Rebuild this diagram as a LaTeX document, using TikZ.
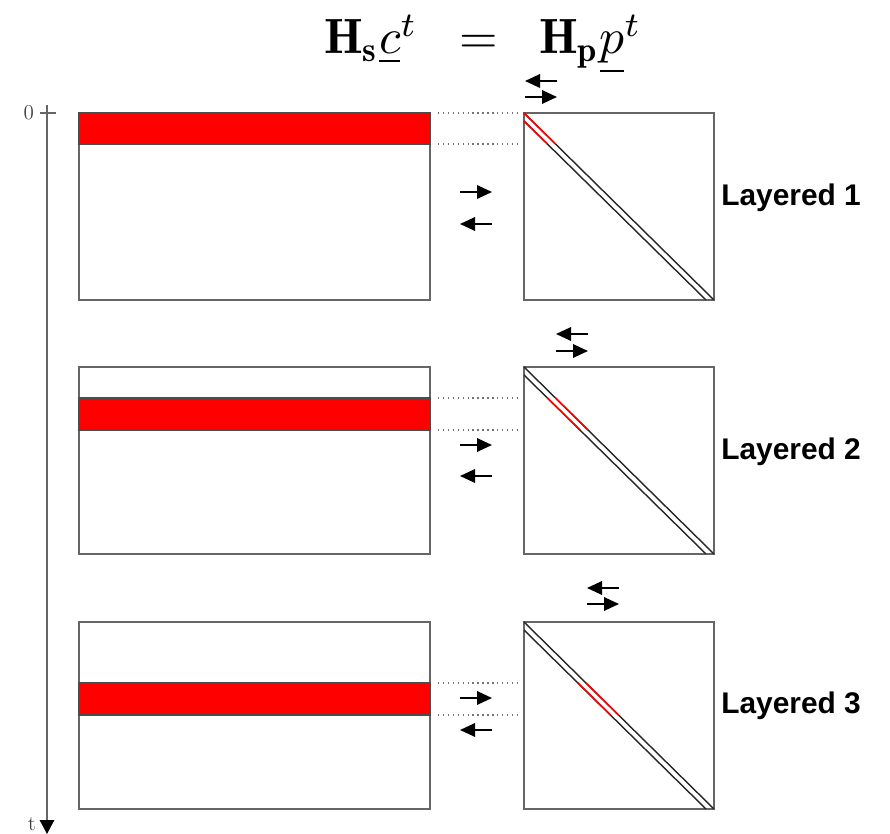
\documentclass[tikz,border=0pt]{standalone}
\usepackage{amsmath, amssymb}
\usepackage{fontspec}
\newfontfamily\labelfont{Liberation Sans}
\usetikzlibrary{positioning,arrows.meta}
\tikzset{
  flowarrow/.style={-{Triangle[length=3mm, width=2.7mm]}, line width=1pt},
  axisarrow/.style={-{Triangle[length=2.8mm, width=2.9mm, color=black]}, draw=black!60, line width=0.8pt},
  matbox/.style={draw=black!60, line width=1pt},
  redband/.style={draw=black!70, fill=red, line width=1pt},
  guideline/.style={draw=black!55, dotted, line width=0.8pt},
  diagline/.style={draw=black!85, line width=0.8pt},
  diagred/.style={draw=red, line width=0.9pt},
  layerlabel/.style={font=\labelfont\bfseries\fontsize{17}{20}\selectfont, anchor=west, inner sep=0pt},
  axislabel/.style={font=\large, text=black!75, inner sep=1pt}
}

\begin{document}
\begin{tikzpicture}[x=0.02cm, y=-0.02cm]
  \useasboundingbox (0,0) rectangle (890,834);
  \node[scale=2.82, anchor=base] (title) at (483,54) {$\mathbf{H}_{\mathbf{s}}\underline{c}^t\mkern10mu=\mkern10mu\mathbf{H}_{\mathbf{p}}\underline{p}^t$};

  \draw[axisarrow] (47,105) -- (47,834);
  \draw[draw=black!60, line width=0.8pt] (40,113) -- (56,113);
  \node[axislabel, anchor=east] (zero) at (36,113) {0};
  \node[axislabel, anchor=base east] (time) at (38,830) {t};

  \draw[matbox] (79,113) rectangle (430,300);
  \draw[redband] (79,113) rectangle (430,144);
  \draw[matbox] (524,113) rectangle (714,300);
  \draw[diagline] (524,113) -- (714,300);
  \draw[diagline] (524,121) -- (706,300);
  \draw[diagred] (524,113) -- (555.5,144);
  \draw[diagred] (524,121) -- (547.4,144);
  \draw[guideline] (438,113) -- (517,113);
  \draw[guideline] (438,144) -- (517,144);
  \draw[flowarrow] (460,192) -- (492,192);
  \draw[flowarrow] (492,224) -- (460,224);
  \draw[flowarrow] (557,81) -- (525,81);
  \draw[flowarrow] (525,97) -- (557,97);
  \node[layerlabel] (lay1) at (721,198) {Layered 1};

  \draw[matbox] (79,367) rectangle (430,554);
  \draw[redband] (79,398) rectangle (430,430);
  \draw[matbox] (524,367) rectangle (714,554);
  \draw[diagline] (524,367) -- (714,554);
  \draw[diagline] (524,375) -- (706,554);
  \draw[diagred] (555.5,398) -- (588,430);
  \draw[diagred] (547.4,398) -- (580,430);
  \draw[guideline] (438,398) -- (517,398);
  \draw[guideline] (438,430) -- (517,430);
  \draw[flowarrow] (460,445) -- (492,445);
  \draw[flowarrow] (492,476) -- (460,476);
  \draw[flowarrow] (588,334) -- (556,334);
  \draw[flowarrow] (556,351) -- (588,351);
  \node[layerlabel] (lay2) at (721,452) {Layered 2};

  \draw[matbox] (79,622) rectangle (430,809);
  \draw[redband] (79,683) rectangle (430,715);
  \draw[matbox] (524,622) rectangle (714,809);
  \draw[diagline] (524,622) -- (714,809);
  \draw[diagline] (524,630) -- (706,809);
  \draw[diagred] (586,683) -- (618.5,715);
  \draw[diagred] (578,683) -- (610.5,715);
  \draw[guideline] (438,683) -- (517,683);
  \draw[guideline] (438,715) -- (517,715);
  \draw[flowarrow] (460,698) -- (492,698);
  \draw[flowarrow] (492,730) -- (460,730);
  \draw[flowarrow] (619,588) -- (587,588);
  \draw[flowarrow] (587,604) -- (619,604);
  \node[layerlabel] (lay3) at (721,706) {Layered 3};
\end{tikzpicture}
\end{document}
